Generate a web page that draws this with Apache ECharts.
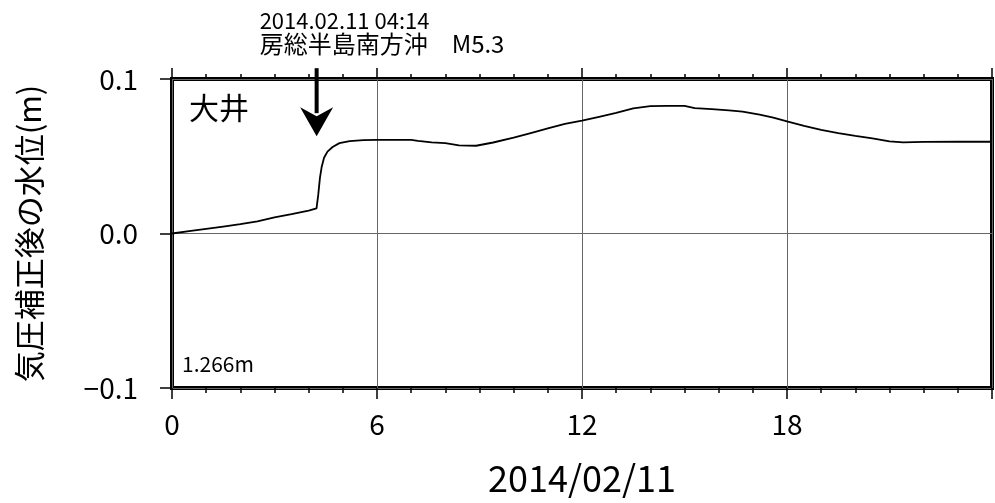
<!DOCTYPE html>
<html>
<head>
<meta charset="utf-8">
<script src="https://cdn.jsdelivr.net/npm/echarts@6/dist/echarts.min.js"></script>
<style>
  html, body { margin: 0; padding: 0; background: #fff; }
  #chart { width: 995px; height: 503px; }
</style>
</head>
<body>
<div id="chart"></div>
<script>
// hours since 2014/02/11 00:00
const hours = [0, 0.5, 1, 1.5, 2, 2.5, 3, 3.5, 4, 4.23, 4.28, 4.33, 4.38, 4.45, 4.55, 4.7, 4.9, 5.2, 5.6,
  6, 6.5, 7, 7.2, 7.6, 8, 8.4, 8.9, 9.4, 10, 10.5, 11, 11.5, 12, 12.5, 13, 13.5, 14, 14.5, 15, 15.3,
  15.8, 16.3, 16.7, 17.2, 17.6, 18, 18.5, 19, 19.5, 20, 20.5, 21, 21.4, 22, 23, 24];
// water level after air-pressure correction (m)
const level = [0.000, 0.0015, 0.003, 0.0045, 0.006, 0.0078, 0.0105, 0.0125, 0.0148, 0.0163, 0.025, 0.036,
  0.043, 0.049, 0.053, 0.056, 0.0585, 0.0598, 0.0604,
  0.0606, 0.0606, 0.0606, 0.060, 0.059, 0.0585, 0.057, 0.0568, 0.0589, 0.062, 0.065, 0.068, 0.071,
  0.073, 0.0755, 0.078, 0.081, 0.0825, 0.0826, 0.0826, 0.0812,
  0.0805, 0.0797, 0.0789, 0.077, 0.075, 0.0725, 0.0697, 0.067, 0.065, 0.0632, 0.0615, 0.0596, 0.059,
  0.0593, 0.0594, 0.0594];
const xTicks = [0, 6, 12, 18];
const yTicks = [-0.1, 0.0, 0.1];
const eventHour = 4 + 14 / 60;
const stationName = '大井';
const baseLevel = '1.266m';
const eventLines = ['2014.02.11 04:14', '房総半島南方沖　M5.3'];

const FONT = '"Noto Sans CJK JP", "Noto Sans", sans-serif';
const chart = echarts.init(document.getElementById('chart'));

const xCommon = {
  type: 'value',
  min: 0,
  max: 24,
  interval: 6,
  axisLine: { show: false, onZero: false },
  minorTick: { show: true, splitNumber: 6, length: 5, lineStyle: { color: '#000', width: 1.5 } },
};

chart.setOption({
  animation: false,
  grid: {
    left: 172, right: 2, top: 79, bottom: 115,
    show: true, borderColor: '#000', borderWidth: 4, backgroundColor: 'transparent',
  },
  xAxis: [
    {
      ...xCommon,
      position: 'bottom',
      name: '2014/02/11',
      nameLocation: 'middle',
      nameGap: 72,
      nameTextStyle: { fontFamily: FONT, fontSize: 36, color: '#000' },
      axisTick: { show: true, length: 11, lineStyle: { color: '#000', width: 1.5 } },
      axisLabel: {
        fontFamily: FONT, fontSize: 28, color: '#000', margin: 22,
        formatter: v => (xTicks.includes(v) ? String(v) : ''),
      },
      splitLine: { show: true, lineStyle: { color: '#666', width: 1 } },
    },
    {
      ...xCommon,
      position: 'top',
      axisTick: { show: true, length: 11, lineStyle: { color: '#000', width: 1.5 } },
      axisLabel: { show: false },
      splitLine: { show: false },
    },
  ],
  yAxis: {
    type: 'value',
    min: -0.1,
    max: 0.1,
    interval: 0.1,
    name: '気圧補正後の水位(m)',
    nameLocation: 'middle',
    nameRotate: 90,
    nameGap: 127,
    nameTextStyle: { fontFamily: FONT, fontSize: 31, color: '#000' },
    axisLine: { show: false, onZero: false },
    axisTick: { show: true, length: 12, lineStyle: { color: '#000', width: 1.5 } },
    axisLabel: {
      fontFamily: FONT, fontSize: 28, color: '#000', margin: 34,
      formatter: v => {
        const t = yTicks.find(k => Math.abs(k - v) < 1e-9);
        if (t === undefined) return '';
        return t < 0 ? '\u2212' + Math.abs(t).toFixed(1) : t.toFixed(1);
      },
    },
    splitLine: { show: true, lineStyle: { color: '#666', width: 1 } },
  },
  series: [{
    type: 'line',
    data: hours.map((h, i) => [h, level[i]]),
    symbol: 'none',
    lineStyle: { color: '#000', width: 1.8 },
    z: 3,
  }],
});

// annotations placed from data coordinates
const [ax, ayTop] = chart.convertToPixel({ xAxisIndex: 0, yAxisIndex: 0 }, [eventHour, 0.107]);
const [, ayTip] = chart.convertToPixel({ xAxisIndex: 0, yAxisIndex: 0 }, [eventHour, 0.063]);
const headLen = 29, headHalf = 16.5;
const [gx, gyTop] = chart.convertToPixel({ xAxisIndex: 0, yAxisIndex: 0 }, [0, 0.1]);
const [, gyBot] = chart.convertToPixel({ xAxisIndex: 0, yAxisIndex: 0 }, [0, -0.1]);

chart.setOption({
  graphic: [
    {
      type: 'line',
      shape: { x1: ax, y1: ayTop, x2: ax, y2: ayTip - headLen + 6 },
      style: { stroke: '#000', lineWidth: 4 },
      z: 10,
    },
    {
      type: 'polygon',
      shape: {
        points: [
          [ax, ayTip],
          [ax - headHalf, ayTip - headLen],
          [ax, ayTip - headLen + 9],
          [ax + headHalf, ayTip - headLen],
        ],
      },
      style: { fill: '#000' },
      z: 10,
    },
    {
      type: 'text', left: ax - 57, top: 10,
      style: { text: eventLines[0], fontFamily: FONT, fontSize: 22, fill: '#000' },
    },
    {
      type: 'text', left: ax - 57, top: 32,
      style: { text: eventLines[1], fontFamily: FONT, fontSize: 24, fill: '#000' },
    },
    {
      type: 'text', left: gx + 17, top: gyTop + 14,
      style: { text: stationName, fontFamily: FONT, fontSize: 30, fill: '#000' },
    },
    {
      type: 'text', left: gx + 10, top: gyBot - 34,
      style: { text: baseLevel, fontFamily: FONT, fontSize: 21, fill: '#000' },
    },
  ],
});
</script>
</body>
</html>
